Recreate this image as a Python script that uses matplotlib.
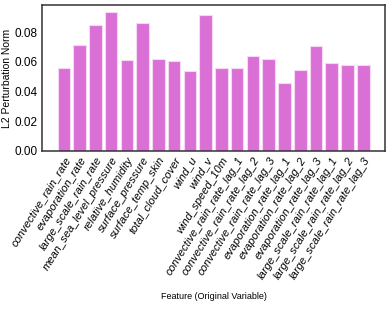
import numpy as np
import matplotlib
matplotlib.use("Agg")
import matplotlib.pyplot as plt
from matplotlib import font_manager

features = ["convective_rain_rate", "evaporation_rate", "large_scale_rain_rate",
            "mean_sea_level_pressure", "relative_humidity", "surface_pressure",
            "surface_temp_skin", "total_cloud_cover", "wind_u", "wind_v",
            "wind_speed_10m", "convective_rain_rate_lag_1", "convective_rain_rate_lag_2",
            "convective_rain_rate_lag_3", "evaporation_rate_lag_1", "evaporation_rate_lag_2",
            "evaporation_rate_lag_3", "large_scale_rain_rate_lag_1",
            "large_scale_rain_rate_lag_2", "large_scale_rain_rate_lag_3"]
l2_norm = [0.0557, 0.0710, 0.0845, 0.0935, 0.0611, 0.0860, 0.0622, 0.0605, 0.0535,
           0.0918, 0.0560, 0.0555, 0.0641, 0.0616, 0.0455, 0.0547, 0.0703, 0.0594,
           0.0577, 0.0577]
yticks = [0.00, 0.02, 0.04, 0.06, 0.08]

names = {f.name for f in font_manager.fontManager.ttflist}
fam = "Liberation Sans Narrow" if "Liberation Sans Narrow" in names else "Liberation Sans"
plt.rcParams['font.family'] = [fam, 'DejaVu Sans']

fig = plt.figure(figsize=(3.89, 3.17), dpi=100)
ax = fig.add_axes([0.108, 0.524, 0.882, 0.46])

x = np.arange(len(features))
ax.bar(x, l2_norm, width=0.8, color='orchid', edgecolor='#f6d8f4', linewidth=0.8)

ax.set_yticks(yticks)
ax.set_yticklabels(["%.2f" % v for v in yticks], fontsize=8.5)
ax.set_xticks(x)
ax.set_xticklabels(features, rotation=58, ha='right', rotation_mode='anchor',
                   fontsize=8, style='italic')
ax.tick_params(length=0, pad=3)
ax.set_ylabel("L2 Perturbation Norm", fontsize=7.5, labelpad=2)
ax.set_xlabel("Feature (Original Variable)", fontsize=6.5, labelpad=8)

for s in ax.spines.values():
    s.set_color('#333333')
    s.set_linewidth(1.1)

fig.savefig("out.png", dpi=100)
